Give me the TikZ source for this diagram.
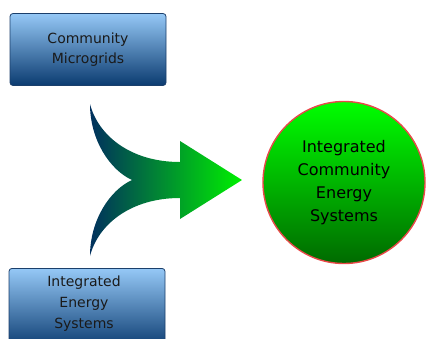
\documentclass[tikz,border=0pt]{standalone}
\usepackage{fontspec}
\setmainfont{DejaVu Sans}
\usetikzlibrary{shapes.geometric}
\definecolor{boxtop}{HTML}{95C8F6}
\definecolor{boxbot}{HTML}{0B3B70}
\definecolor{boxedge}{HTML}{1B3F6B}
\definecolor{arrleft}{HTML}{01305E}
\definecolor{arrright}{HTML}{00F000}
\definecolor{circtop}{HTML}{00FF00}
\definecolor{circbot}{HTML}{006A00}
\definecolor{circedge}{HTML}{E84848}
\definecolor{txt}{HTML}{1A1A1A}
\tikzset{
  bluebox/.style={draw=boxedge, line width=0.8pt, rounded corners=3pt,
    top color=boxtop, bottom color=boxbot, minimum width=156pt, minimum height=72pt,
    align=center, text=txt, font=\fontsize{14}{20}\selectfont, inner sep=0pt},
  greencirc/.style={circle, draw=circedge, line width=1.4pt, top color=circtop,
    bottom color=circbot, minimum size=162pt, align=center, text=black,
    font=\fontsize{16}{23}\selectfont, inner sep=0pt}
}
\begin{document}
\begin{tikzpicture}[x=1pt,y=-1pt]
\useasboundingbox (0,0) rectangle (426,338);
\clip (0,0) rectangle (426,338);
\node[bluebox] (cm) at (88,49.5) {Community\\Microgrids};
\node[bluebox, minimum height=80pt, anchor=north] (ies) at (87,268) {};
\node[align=center, text=txt, font=\fontsize{14}{21}\selectfont] (iestxt) at (84,304) {Integrated\\Energy\\Systems};
\node[greencirc] (ices) at (344,182.5) {Integrated\\Community\\Energy\\Systems};
\coordinate (notch) at (132,180);
\coordinate (tip) at (242,180);
\shade[left color=arrleft, right color=arrright]
  (notch) .. controls (110,170) and (90,140) .. (90,104)
  .. controls (98,135) and (130,162) .. (180,162)
  -- (180,141) -- (tip) -- (180,219) -- (180,198)
  .. controls (130,198) and (98,225) .. (90,256)
  .. controls (90,220) and (110,190) .. (notch) -- cycle;
\end{tikzpicture}
\end{document}
